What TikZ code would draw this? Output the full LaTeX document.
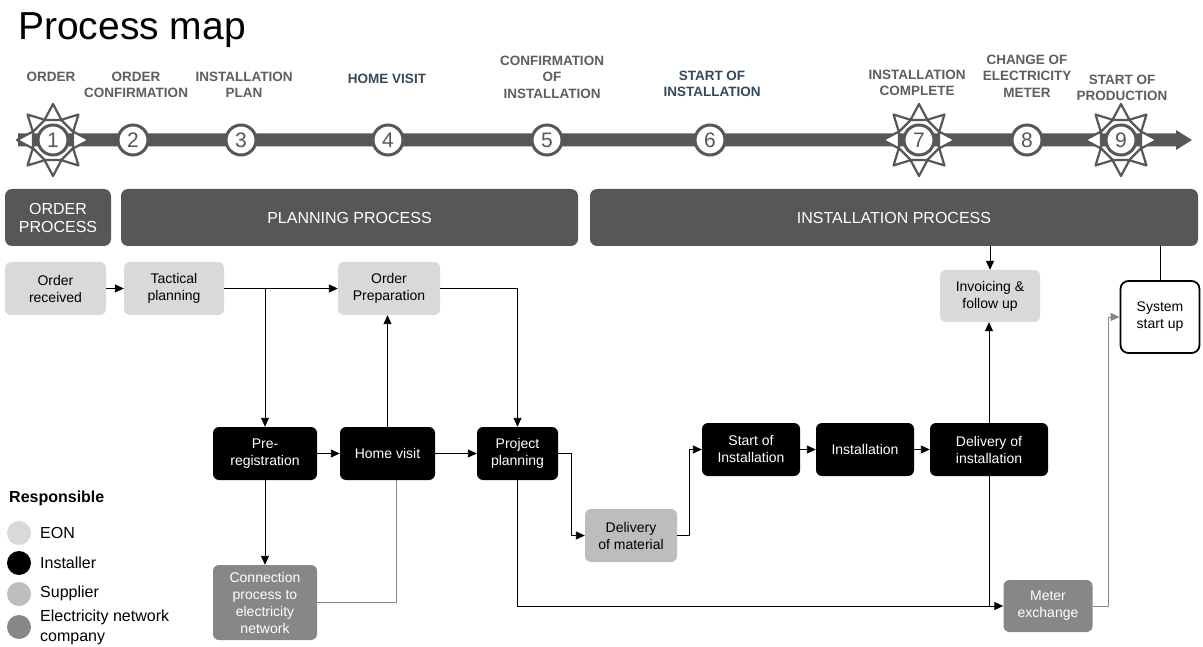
\documentclass[tikz,border=0pt]{standalone}
\usepackage{fontspec}
\setmainfont{Liberation Sans}
\usetikzlibrary{arrows.meta,calc}

\definecolor{bargray}{HTML}{575757}
\definecolor{labgray}{HTML}{5E5E5E}
\definecolor{labblue}{HTML}{34495A}
\definecolor{eongray}{HTML}{D9D9D9}
\definecolor{suppgray}{HTML}{BDBDBD}
\definecolor{netgray}{HTML}{878787}

\tikzset{
  box/.style={rounded corners=6pt, align=center, inner sep=2pt,
    minimum height=53pt, font=\fontsize{14}{17}\selectfont},
  eon/.style={box, fill=eongray, text=black},
  installer/.style={box, fill=black, text=white},
  supplier/.style={box, fill=suppgray, text=black},
  network/.style={box, fill=netgray, text=white},
  phase/.style={fill=bargray, rounded corners=7pt, text=white, align=center,
    minimum height=57pt, font=\fontsize{16}{18}\selectfont},
  milestone/.style={circle, draw=bargray, line width=3pt, fill=white,
    minimum size=30pt, inner sep=0pt, text=bargray, font=\fontsize{21}{21}\selectfont},
  sunray/.style={draw=bargray, fill=white, line width=2.2pt, line join=round},
  steplabel/.style={text=labgray, align=center, inner sep=0pt,
    font=\bfseries\fontsize{13.5}{16.5}\selectfont},
  flow/.style={-{Triangle[length=9pt,width=8pt]}, line width=0.9pt},
  link/.style={line width=0.9pt},
  legdot/.style={circle, minimum size=24pt, inner sep=0pt},
  legtext/.style={anchor=west, inner sep=0pt, align=left, font=\fontsize{16}{20}\selectfont}
}

\begin{document}
\begin{tikzpicture}[x=1pt,y=-1pt]

\useasboundingbox[fill=white] (0,0) rectangle (1203,647);

\node[anchor=base west, inner sep=0pt, font=\fontsize{39}{39}\selectfont] (title) at (18,40) {Process map};

% timeline
\foreach \n/\x in {1/53,2/133,3/241,4/388,5/547,6/710,7/919,8/1027,9/1121}
  \coordinate (c\n) at (\x,140);

\fill[bargray] (18,133.5) -- (1176,133.5) -- (1176,130) -- (1192,140)
  -- (1176,150) -- (1176,146.5) -- (18,146.5) -- cycle;

\foreach \c in {c1,c7,c9}
  \foreach \a in {0,45,...,315}
    \draw[sunray] ($(\c)+(\a:20)+(\a+90:8.5)$) -- ($(\c)+(\a:36)$)
      -- ($(\c)+(\a:20)+(\a-90:8.5)$) -- cycle;

\foreach \n in {1,...,9}
  \node[milestone] (m\n) at (c\n) {\n};

\node[steplabel] (l1) at (51,77) {ORDER};
\node[steplabel] (l2) at (136,85) {ORDER\\CONFIRMATION};
\node[steplabel] (l3) at (244,85) {INSTALLATION\\PLAN};
\node[steplabel, text=labblue] (l4) at (387,79) {HOME VISIT};
\node[steplabel] (l5) at (552,77) {CONFIRMATION\\OF\\INSTALLATION};
\node[steplabel, text=labblue] (l6) at (712,84) {START OF\\INSTALLATION};
\node[steplabel] (l7) at (917,83) {INSTALLATION\\COMPLETE};
\node[steplabel] (l8) at (1027,76) {CHANGE OF\\ELECTRICITY\\METER};
\node[steplabel] (l9) at (1122,88) {START OF\\PRODUCTION};

% phases
\node[phase, minimum width=106pt] (ordphase) at (58,217.5) {ORDER\\PROCESS};
\node[phase, minimum width=457pt] (planphase) at (349.5,217.5) {PLANNING PROCESS};
\node[phase, minimum width=608pt] (instphase) at (894,217.5) {INSTALLATION PROCESS};

% activities
\node[eon, minimum width=101pt] (received) at (55.5,288.5) {Order\\received};
\node[eon, minimum width=100pt] (tactical) at (174,288.5) {Tactical\\planning};
\node[eon, minimum width=102pt] (prep) at (389,288.5) {Order\\Preparation};
\node[eon, minimum width=100pt, minimum height=52pt] (invoice) at (990,296) {Invoicing \&\\follow up};
\node[box, draw=black, line width=1.8pt, fill=white, rounded corners=8pt,
  minimum width=79pt, minimum height=72pt] (system) at (1160,317) {System\\start up};

\node[installer, minimum width=104pt] (prereg) at (265,453.5) {Pre-\\registration};
\node[installer, minimum width=95pt] (home) at (387.5,453.5) {Home visit};
\node[installer, minimum width=81pt] (project) at (517.5,453.5) {Project\\planning};
\node[installer, minimum width=98pt] (start) at (751,449.5) {Start of\\Installation};
\node[installer, minimum width=98pt] (install) at (865,449.5) {Installation};
\node[installer, minimum width=118pt] (deliv) at (989,449.5) {Delivery of\\installation};

\node[supplier, minimum width=92pt] (material) at (631,535.5) {Delivery\\of material};
\node[network, minimum width=104pt, minimum height=75pt] (conn) at (265,602.5) {Connection\\process to\\electricity\\network};
\node[network, minimum width=89pt, minimum height=52pt] (meter) at (1048,606) {Meter\\exchange};

% connectors
\draw[flow] (received) -- (tactical);
\draw[flow] (tactical) -- (prep);
\draw[flow] (tactical.east -| prereg.north) -- (prereg.north);
\draw[flow] (prereg) -- (home);
\draw[flow] (prereg) -- (conn);
\draw[flow] (home.north) -- (home.north |- prep.south);
\draw[link, netgray] ($(home.south)+(9,0)$) |- (conn.east);
\draw[flow] (home) -- (project);
\draw[flow] (prep.east) -| (project.north);
\draw[flow] (project.east) -| ($(project.east)!.5!(material.west)$) |- (material.west);
\draw[flow] (material.east) -| ($(material.east)!.5!(start.west)$) |- (start.west);
\draw[flow] (start) -- (install);
\draw[flow] (install) -- (deliv);
\draw[flow] (project.south) |- (meter.west);
\draw[link] (deliv.south) -- (deliv.south |- meter.west);
\draw[flow] (deliv.north) -- (deliv.north |- invoice.south);
\draw[flow] (instphase.south -| invoice.north) -- (invoice.north);
\draw[link] (instphase.south -| system.north) -- (system.north);
\draw[flow, netgray] (meter.east) -| ($(meter.east)+(16,0)$) |- (system.west);

% legend
\node[legtext, font=\bfseries\fontsize{16}{20}\selectfont] (resp) at (9,498) {Responsible};
\node[legdot, fill=eongray] (d1) at (19,533) {};
\node[legdot, fill=black] (d2) at (19,563) {};
\node[legdot, fill=suppgray] (d3) at (19,594) {};
\node[legdot, fill=netgray] (d4) at (19,627) {};
\node[legtext] (t1) at (40,533) {EON};
\node[legtext] (t2) at (40,563) {Installer};
\node[legtext] (t3) at (40,593) {Supplier};
\node[legtext] (t4) at (40,627) {Electricity network\\company};

\end{tikzpicture}
\end{document}
